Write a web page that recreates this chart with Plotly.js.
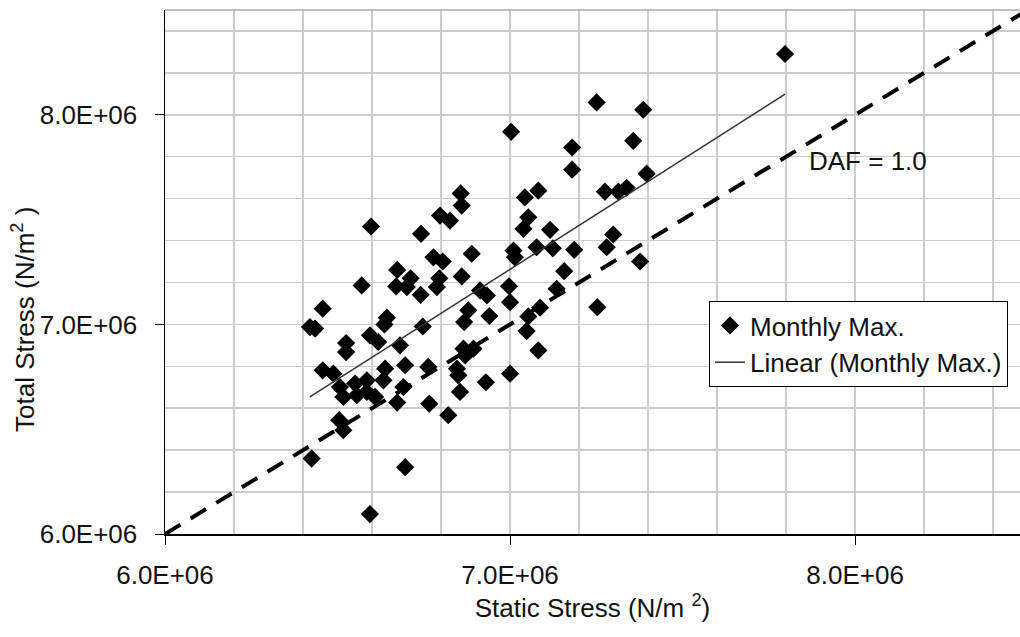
<!DOCTYPE html>
<html>
<head>
<meta charset="utf-8">
<script src="https://cdn.plot.ly/plotly-3.0.1.min.js"></script>
<style>html,body{margin:0;padding:0;background:#fff;}#chart{width:1020px;height:637px;}</style>
</head>
<body>
<div id="chart"></div>
<script>
// Monthly maximum stresses (N/m^2)
const staticStress = [
  7.797e6, 7.251e6, 7.386e6, 7.003e6, 7.357e6, 7.180e6, 7.180e6, 7.396e6, 7.275e6, 7.314e6,
  7.338e6, 6.857e6, 7.043e6, 7.082e6, 6.860e6, 6.797e6, 6.826e6, 6.597e6, 6.742e6, 7.053e6,
  7.039e6, 7.116e6, 7.299e6, 7.280e6, 6.889e6, 6.778e6, 6.805e6, 7.010e6, 7.014e6, 7.077e6,
  7.124e6, 7.186e6, 7.377e6, 6.673e6, 6.712e6, 6.795e6, 6.860e6, 7.157e6, 6.570e6, 6.670e6,
  6.701e6, 6.788e6, 6.741e6, 6.913e6, 6.933e6, 6.997e6, 7.135e6, 7.253e6, 7.000e6, 7.087e6,
  6.457e6, 6.643e6, 6.636e6, 6.879e6, 6.867e6, 6.940e6, 7.053e6, 7.048e6, 6.420e6, 6.435e6,
  6.747e6, 6.594e6, 6.618e6, 6.681e6, 6.525e6, 6.525e6, 6.865e6, 6.894e6, 6.870e6, 7.082e6,
  6.457e6, 6.488e6, 6.696e6, 6.763e6, 6.638e6, 6.846e6, 6.850e6, 7.000e6, 6.930e6, 6.507e6,
  6.551e6, 6.585e6, 6.633e6, 6.517e6, 6.556e6, 6.609e6, 6.585e6, 6.691e6, 6.855e6, 6.673e6,
  6.766e6, 6.821e6, 6.505e6, 6.517e6, 6.425e6, 6.696e6, 6.594e6
];
const totalStress = [
  8.290e6, 8.059e6, 8.024e6, 7.919e6, 7.876e6, 7.844e6, 7.738e6, 7.719e6, 7.633e6, 7.633e6,
  7.652e6, 7.625e6, 7.606e6, 7.638e6, 7.567e6, 7.519e6, 7.495e6, 7.467e6, 7.432e6, 7.511e6,
  7.456e6, 7.451e6, 7.429e6, 7.368e6, 7.337e6, 7.320e6, 7.300e6, 7.352e6, 7.320e6, 7.368e6,
  7.363e6, 7.356e6, 7.300e6, 7.260e6, 7.220e6, 7.220e6, 7.229e6, 7.254e6, 7.186e6, 7.181e6,
  7.178e6, 7.178e6, 7.141e6, 7.162e6, 7.138e6, 7.182e6, 7.170e6, 7.082e6, 7.106e6, 7.080e6,
  7.075e6, 7.032e6, 7.000e6, 7.067e6, 7.011e6, 7.040e6, 7.038e6, 6.968e6, 6.987e6, 6.980e6,
  6.990e6, 6.948e6, 6.916e6, 6.900e6, 6.911e6, 6.868e6, 6.884e6, 6.884e6, 6.852e6, 6.876e6,
  6.781e6, 6.765e6, 6.805e6, 6.797e6, 6.789e6, 6.789e6, 6.757e6, 6.765e6, 6.724e6, 6.701e6,
  6.718e6, 6.733e6, 6.733e6, 6.654e6, 6.662e6, 6.654e6, 6.678e6, 6.701e6, 6.678e6, 6.627e6,
  6.622e6, 6.567e6, 6.543e6, 6.495e6, 6.360e6, 6.319e6, 6.095e6
];
const tickValues = [6.0e6, 7.0e6, 8.0e6];
const tickLabels = ["6.0E+06", "7.0E+06", "8.0E+06"];
const DAF = 1.0;
const xRange = [6.0e6, 8.478e6];
const yRange = [6.0e6, 8.5e6];

// least-squares linear trend over the data range
const n = staticStress.length;
const mx = staticStress.reduce((a, b) => a + b, 0) / n;
const my = totalStress.reduce((a, b) => a + b, 0) / n;
let sxy = 0, sxx = 0;
for (let i = 0; i < n; i++) {
  sxy += (staticStress[i] - mx) * (totalStress[i] - my);
  sxx += (staticStress[i] - mx) ** 2;
}
const slope = sxy / sxx, icpt = my - slope * mx;
const xMin = Math.min(...staticStress), xMax = Math.max(...staticStress);
const trendX = [xMin, xMax];
const trendY = trendX.map(v => icpt + slope * v);
const dafX = [yRange[0], yRange[1]];
const dafY = dafX.map(v => DAF * v);

const FONT = "Liberation Sans, Arial, sans-serif";
const grid = "#cccccc";

const traces = [
  {x: dafX, y: dafY, mode: "lines", showlegend: false, hoverinfo: "skip",
   line: {color: "#000", width: 4, dash: "18px,12px"}},
  {x: staticStress, y: totalStress, mode: "markers", name: "Monthly Max.",
   marker: {symbol: "diamond", size: 14, color: "#000"}},
  {x: trendX, y: trendY, mode: "lines", name: "Linear (Monthly Max.)",
   line: {color: "#333", width: 1.5}}
];

const axisCommon = {
  tickmode: "array", tickvals: tickValues, ticktext: tickLabels,
  ticks: "outside", ticklen: 9, tickcolor: "#000", tickwidth: 1,
  showgrid: true, gridcolor: grid, gridwidth: 1.5,
  minor: {tickmode: "linear", tick0: 6.0e6, dtick: 2e5, showgrid: true, gridcolor: grid, gridwidth: 1.5, ticks: ""},
  showline: true, linecolor: "#000", linewidth: 1.5,
  zeroline: false, tickfont: {family: FONT, size: 26, color: "#111"}
};

const layout = {
  width: 1020, height: 637,
  margin: {l: 165, r: 0, t: 10, b: 103, pad: 0},
  paper_bgcolor: "#fff", plot_bgcolor: "#fff",
  font: {family: FONT, size: 26, color: "#111"},
  xaxis: Object.assign({}, axisCommon, {
    range: xRange, ticklabelstandoff: 8,
    title: {text: "Static Stress (N/m <sup>2</sup>)", font: {family: FONT, size: 26, color: "#111"}, standoff: 8}
  }),
  yaxis: Object.assign({}, axisCommon, {
    range: yRange, ticklabelstandoff: 12
  }),
  showlegend: true,
  legend: {x: (709 - 165) / 855, y: (534 - 301) / 524, xanchor: "left", yanchor: "top",
           bgcolor: "#fff", bordercolor: "#000", borderwidth: 1,
           font: {family: FONT, size: 26, color: "#111"}, tracegroupgap: 0},
  shapes: [
    {type: "line", xref: "paper", yref: "paper", x0: 0, x1: 1, y0: 1, y1: 1, line: {color: "#aaaaaa", width: 1.5}}
  ],
  annotations: [
    {text: "DAF = 1.0", x: 8.038e6, y: 7.781e6, xref: "x", yref: "y", showarrow: false,
     font: {family: FONT, size: 26, color: "#111"}},
    {text: "Total Stress (N/m<sup>2</sup> )", xref: "paper", yref: "paper", textangle: -90,
     x: (24 - 165) / 855, y: (534 - 320) / 524, xanchor: "center", yanchor: "middle", showarrow: false,
     font: {family: FONT, size: 26, color: "#111"}}
  ]
};

Plotly.newPlot("chart", traces, layout, {displayModeBar: false, staticPlot: true});
</script>
</body>
</html>
